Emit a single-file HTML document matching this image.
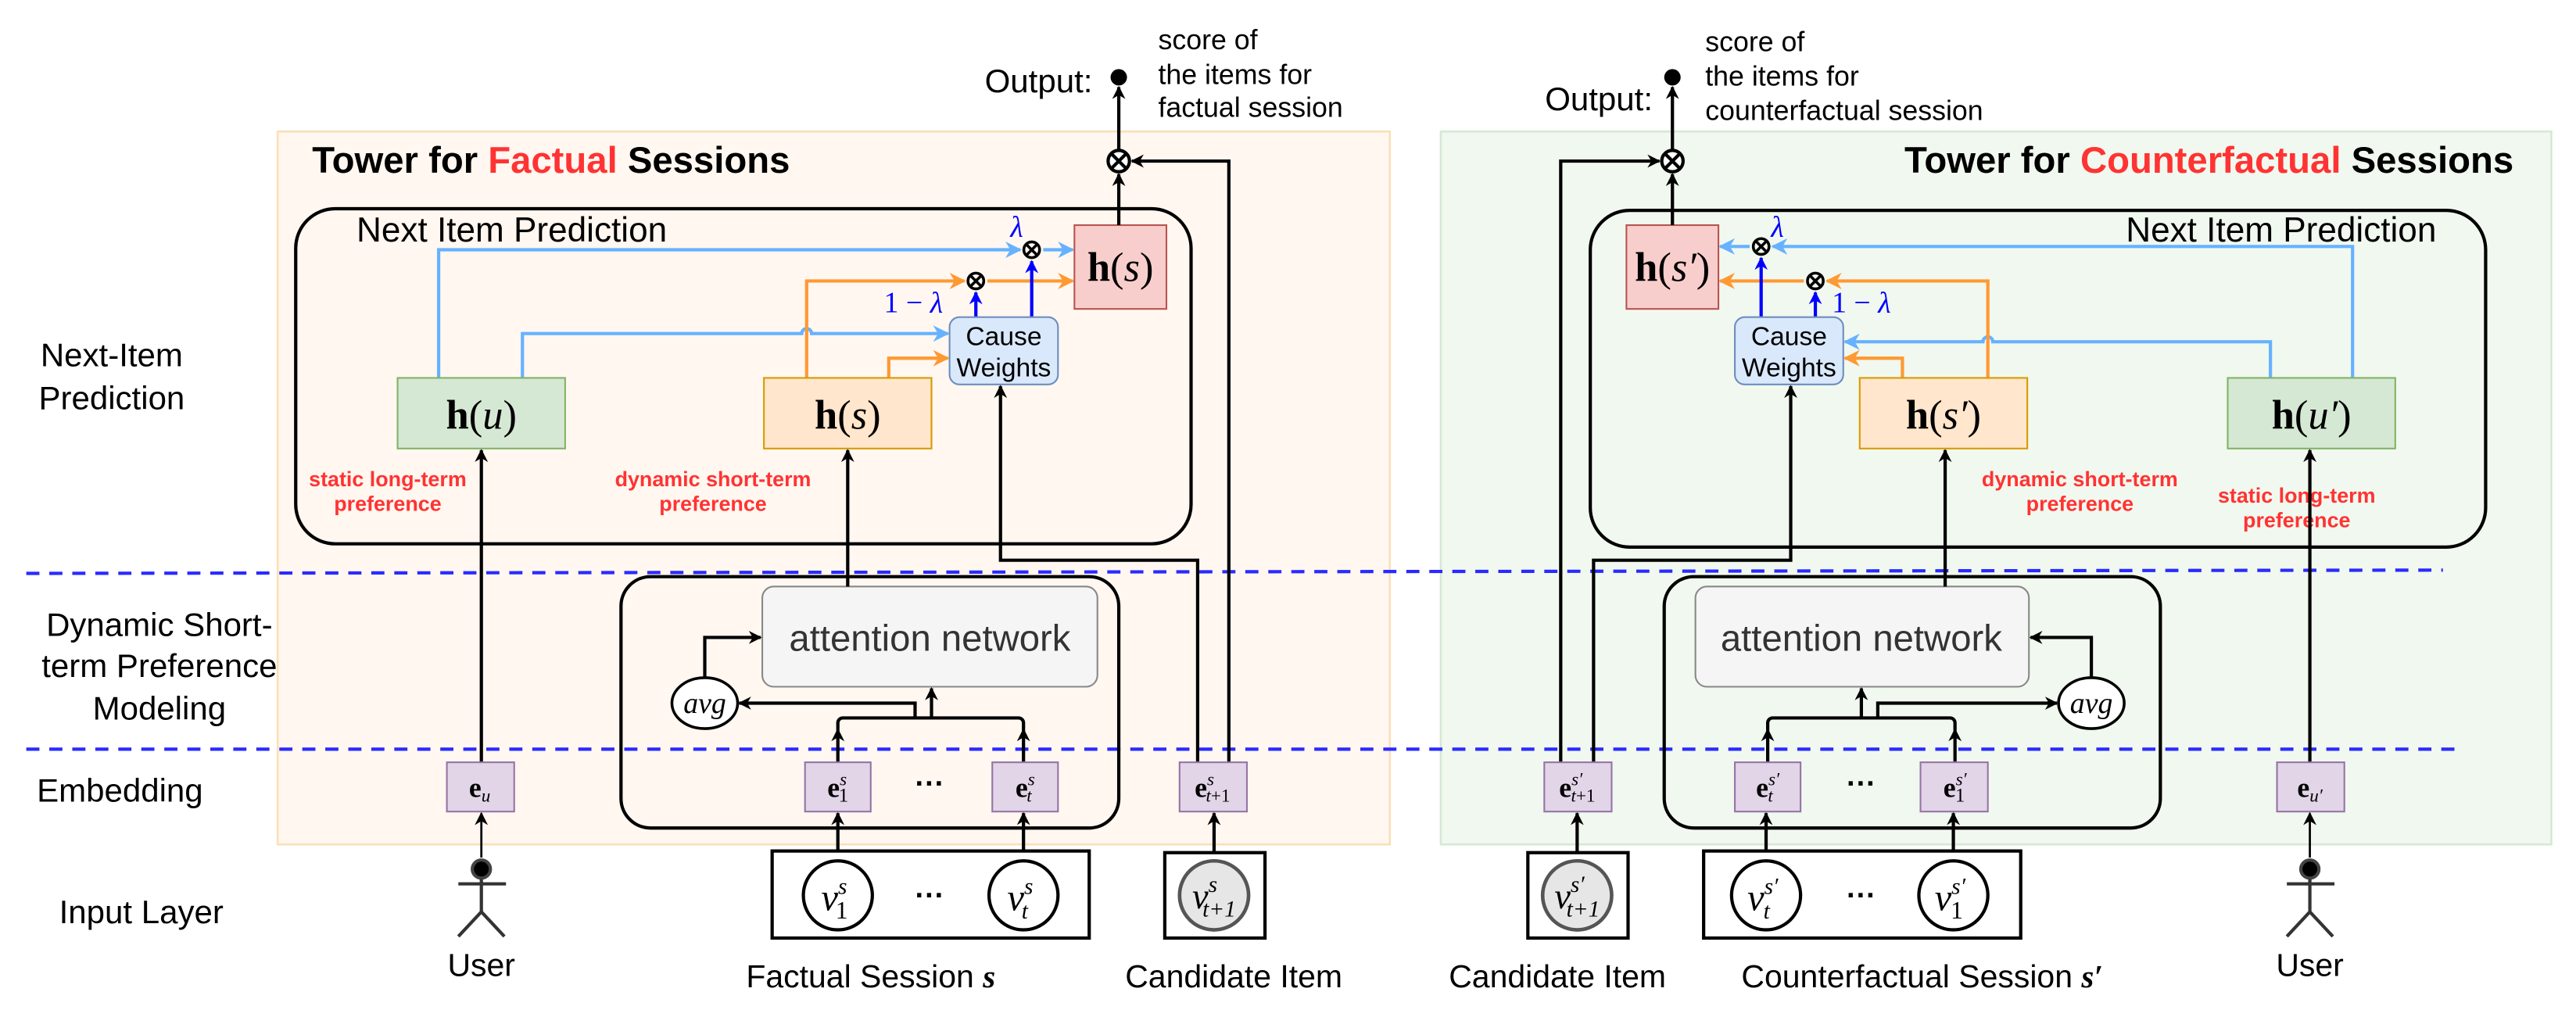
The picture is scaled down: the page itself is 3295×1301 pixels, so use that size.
<!DOCTYPE html>
<html><head><meta charset="utf-8"><style>
html,body{margin:0;padding:0;background:#fff;}
svg{display:block;}
text{font-family:"Liberation Sans",sans-serif;}
.m{font-family:"Liberation Serif",serif;}
</style></head><body>
<svg width="3295" height="1301" viewBox="0 0 1568 619" xmlns="http://www.w3.org/2000/svg">
<defs>
<marker id="ak" viewBox="0 0 10 10" refX="9" refY="5" markerWidth="8" markerHeight="8" orient="auto" markerUnits="userSpaceOnUse"><path d="M0,0 L10,5 L0,10 L3,5z" fill="#000"/></marker>
<marker id="ab" viewBox="0 0 10 10" refX="9" refY="5" markerWidth="10" markerHeight="10" orient="auto" markerUnits="userSpaceOnUse"><path d="M0,0 L10,5 L0,10 L3,5z" fill="#66b2ff"/></marker>
<marker id="ao" viewBox="0 0 10 10" refX="9" refY="5" markerWidth="10" markerHeight="10" orient="auto" markerUnits="userSpaceOnUse"><path d="M0,0 L10,5 L0,10 L3,5z" fill="#ff9933"/></marker>
<marker id="ad" viewBox="0 0 10 10" refX="9" refY="5" markerWidth="8" markerHeight="8" orient="auto" markerUnits="userSpaceOnUse"><path d="M0,0 L10,5 L0,10 L3,5z" fill="#0000ff"/></marker>
</defs>

<rect x="169" y="80" width="677" height="434" fill="#fff7f0" stroke="#f8e0b5" stroke-width="1.2"/>
<rect x="877" y="80" width="676" height="434" fill="#f1f8ef" stroke="#d5e8d4" stroke-width="1.2"/>

<g font-size="20" fill="#000" text-anchor="middle">
<text x="68" y="223">Next-Item</text>
<text x="68" y="249">Prediction</text>
<text x="97" y="387">Dynamic Short-</text>
<text x="97" y="412">term Preference</text>
<text x="97" y="438">Modeling</text>
<text x="73" y="488">Embedding</text>
<text x="86" y="562">Input Layer</text>
</g>

<text x="190" y="105" font-size="22.5" font-weight="bold">Tower for <tspan fill="#ff3333">Factual</tspan> Sessions</text>
<text x="1530" y="105" font-size="22.5" font-weight="bold" text-anchor="end">Tower for <tspan fill="#ff3333">Counterfactual</tspan> Sessions</text>

<line x1="16" y1="349" x2="1487" y2="347" stroke="#2a2aff" stroke-width="2" stroke-dasharray="8,6"/>
<line x1="16" y1="456" x2="1496" y2="456" stroke="#2a2aff" stroke-width="2" stroke-dasharray="8,6"/>

<rect x="180" y="127" width="545" height="204" rx="24" fill="none" stroke="#000" stroke-width="2"/>
<text x="217" y="147" font-size="21">Next Item Prediction</text>
<rect x="968" y="128" width="545" height="205" rx="24" fill="none" stroke="#000" stroke-width="2"/>
<text x="1483" y="147" font-size="21" text-anchor="end">Next Item Prediction</text>

<!-- LEFT -->
<g fill="none" stroke-width="2">
<path d="M267,230 V152 H621" stroke="#66b2ff" marker-end="url(#ab)"/>
<path d="M635,152 H653" stroke="#66b2ff" marker-end="url(#ab)"/>
<path d="M318,230 V203 H488 a3,3 0 0 1 6,0 H577" stroke="#66b2ff" marker-end="url(#ab)"/>
<path d="M491,230 V171 H587" stroke="#ff9933" marker-end="url(#ao)"/>
<path d="M601,171 H653" stroke="#ff9933" marker-end="url(#ao)"/>
<path d="M541,230 V218 H577" stroke="#ff9933" marker-end="url(#ao)"/>
<path d="M594,193 V178" stroke="#0000ff" marker-end="url(#ad)"/>
<path d="M628,193 V159" stroke="#0000ff" marker-end="url(#ad)"/>
</g>
<text x="615" y="144" font-size="18" fill="#0000ff" class="m" font-style="italic">λ</text>
<text x="538" y="190" font-size="18" fill="#0000ff" class="m">1 − <tspan font-style="italic">λ</tspan></text>
<g fill="none" stroke="#000" stroke-width="1.7">
<circle cx="594" cy="171" r="4.8"/><path d="M591,168 L597,174 M597,168 L591,174"/>
<circle cx="628" cy="152" r="4.8"/><path d="M625,149 L631,155 M631,149 L625,155"/>
</g>
<rect x="242" y="230" width="102" height="43" fill="#d5e8d4" stroke="#82b366"/>
<text x="293" y="261" font-size="25" text-anchor="middle" class="m"><tspan font-weight="bold">h</tspan>(<tspan font-style="italic">u</tspan>)</text>
<rect x="465" y="230" width="102" height="43" fill="#ffe6cc" stroke="#d79b00"/>
<text x="516" y="261" font-size="25" text-anchor="middle" class="m"><tspan font-weight="bold">h</tspan>(<tspan font-style="italic">s</tspan>)</text>
<rect x="578" y="193" width="66" height="41" rx="6" fill="#dae8fc" stroke="#6c8ebf"/>
<text x="611" y="210" font-size="16" text-anchor="middle">Cause</text>
<text x="611" y="229" font-size="16" text-anchor="middle">Weights</text>
<rect x="654" y="137" width="56" height="51" fill="#f8cecc" stroke="#b85450"/>
<text x="682" y="171" font-size="25" text-anchor="middle" class="m"><tspan font-weight="bold">h</tspan>(<tspan font-style="italic">s</tspan>)</text>
<g font-size="12.8" font-weight="bold" fill="#ff3333" text-anchor="middle">
<text x="236" y="296">static long-term</text><text x="236" y="311">preference</text>
<text x="434" y="296">dynamic short-term</text><text x="434" y="311">preference</text>
</g>
<g fill="none" stroke="#000" stroke-width="2">
<path d="M681,137 V106" marker-end="url(#ak)"/>
<path d="M681,91 V53" marker-end="url(#ak)"/>
<path d="M748,464 V98 H689" marker-end="url(#ak)"/>
<path d="M729,464 V341 H609 V235" marker-end="url(#ak)"/>
<circle cx="681" cy="98" r="6.5" fill="#fff"/><path d="M676.5,93.5 L685.5,102.5 M685.5,93.5 L676.5,102.5"/>
</g>
<circle cx="681" cy="47" r="5" fill="#000"/>
<text x="665" y="56" font-size="20" text-anchor="end">Output:</text>
<g font-size="17"><text x="705" y="30">score of</text><text x="705" y="51">the items for</text><text x="705" y="71">factual session</text></g>

<rect x="378" y="351" width="303" height="153" rx="18" fill="none" stroke="#000" stroke-width="2"/>
<rect x="464" y="357" width="204" height="61" rx="7" fill="#f5f5f5" stroke="#888"/>
<text x="566" y="396" font-size="22.5" fill="#333" text-anchor="middle">attention network</text>
<ellipse cx="429" cy="428" rx="20" ry="15.5" fill="#fff" stroke="#000" stroke-width="1.7"/>
<text x="429" y="434" font-size="18" text-anchor="middle" class="m" font-style="italic">avg</text>
<g fill="none" stroke="#000" stroke-width="2">
<path d="M429,412 V388 H463" marker-end="url(#ak)"/>
<path d="M510,464 V444" marker-end="url(#ak)"/>
<path d="M623,464 V444" marker-end="url(#ak)"/>
<path d="M510,444 V440 a3,3 0 0 1 3,-3 H620 a3,3 0 0 1 3,3 V444"/>
<path d="M557,437 V428 H450" marker-end="url(#ak)"/>
<path d="M567,437 V419" marker-end="url(#ak)"/>
<path d="M516,357 V274" marker-end="url(#ak)"/>
<path d="M293,464 V274" marker-end="url(#ak)"/>
<path d="M510,523 V495" marker-end="url(#ak)"/>
<path d="M623,523 V495" marker-end="url(#ak)"/>
<path d="M739,523 V495" marker-end="url(#ak)"/>
<path d="M293,522 V495" stroke-width="1.3" marker-end="url(#ak)"/>
</g>
<g fill="#e1d5e7" stroke="#9673a6">
<rect x="272" y="464" width="41" height="30"/><rect x="490" y="464" width="40" height="30"/>
<rect x="604" y="464" width="40" height="30"/><rect x="718" y="464" width="41" height="30"/>
</g>
<g font-size="17" text-anchor="middle">
<text x="292" y="485" class="m"><tspan font-weight="bold">e</tspan><tspan font-size="11" font-style="italic" dy="3">u</tspan></text>
<text x="510" y="485" class="m"><tspan font-weight="bold">e</tspan><tspan font-size="11" font-style="italic" dy="-7">s</tspan><tspan font-size="12" dx="-5" dy="10">1</tspan></text>
<text x="624" y="485" class="m"><tspan font-weight="bold">e</tspan><tspan font-size="11" font-style="italic" dy="-7">s</tspan><tspan font-size="11" font-style="italic" dx="-5" dy="10">t</tspan></text>
<text x="738" y="485" class="m"><tspan font-weight="bold">e</tspan><tspan font-size="11" font-style="italic" dy="-7">s</tspan><tspan font-size="11" font-style="italic" dx="-5" dy="10">t</tspan><tspan font-size="11">+1</tspan></text>
</g>
<text x="566" y="483" font-size="18" font-weight="bold" text-anchor="middle">···</text>
<rect x="470" y="518" width="193" height="53" fill="#fff" stroke="#000" stroke-width="2"/>
<ellipse cx="510" cy="545" rx="21" ry="21" fill="#fff" stroke="#000" stroke-width="2"/>
<ellipse cx="623" cy="545" rx="21" ry="21" fill="#fff" stroke="#000" stroke-width="2"/>
<text x="566" y="551" font-size="18" font-weight="bold" text-anchor="middle">···</text>
<g font-style="italic" text-anchor="middle">
<text x="508" y="554" font-size="23" class="m">v<tspan font-size="14" dy="-10">s</tspan><tspan font-size="15" font-style="normal" dx="-7" dy="15">1</tspan></text>
<text x="621" y="554" font-size="23" class="m">v<tspan font-size="14" dy="-10">s</tspan><tspan font-size="14" dx="-7" dy="15">t</tspan></text>
</g>
<rect x="709" y="519" width="61" height="52" fill="#fff" stroke="#000" stroke-width="2"/>
<circle cx="739" cy="545" r="21" fill="#e6e6e6" stroke="#555" stroke-width="2.2"/>
<text x="739" y="553" font-size="22" class="m" font-style="italic" text-anchor="middle">v<tspan font-size="14" dy="-10">s</tspan><tspan font-size="14" dx="-9" dy="15">t+1</tspan></text>
<g stroke="#333" stroke-width="2" fill="none">
<circle cx="293" cy="529" r="5.5" fill="#000" stroke="#444"/>
<path d="M293,535 V555 M279,538 H308 M293,555 L279,570 M293,555 L307,570"/>
</g>
<g font-size="19.5" text-anchor="middle">
<text x="293" y="594">User</text>
<text x="530" y="601">Factual Session <tspan class="m" font-style="italic" font-weight="bold">s</tspan></text>
<text x="751" y="601">Candidate Item</text>
</g>

<!-- RIGHT -->
<g fill="none" stroke-width="2">
<path d="M1432,230 V150 H1079" stroke="#66b2ff" marker-end="url(#ab)"/>
<path d="M1065,150 H1047" stroke="#66b2ff" marker-end="url(#ab)"/>
<path d="M1382,230 V208 H1213 a3,3 0 0 0 -6,0 H1123" stroke="#66b2ff" marker-end="url(#ab)"/>
<path d="M1210,230 V171 H1112" stroke="#ff9933" marker-end="url(#ao)"/>
<path d="M1098,171 H1047" stroke="#ff9933" marker-end="url(#ao)"/>
<path d="M1158,230 V218 H1123" stroke="#ff9933" marker-end="url(#ao)"/>
<path d="M1105,193 V178" stroke="#0000ff" marker-end="url(#ad)"/>
<path d="M1072,193 V157" stroke="#0000ff" marker-end="url(#ad)"/>
</g>
<text x="1078" y="144" font-size="18" fill="#0000ff" class="m" font-style="italic">λ</text>
<text x="1115" y="190" font-size="18" fill="#0000ff" class="m">1 − <tspan font-style="italic">λ</tspan></text>
<g fill="none" stroke="#000" stroke-width="1.7">
<circle cx="1105" cy="171" r="4.8"/><path d="M1102,168 L1108,174 M1108,168 L1102,174"/>
<circle cx="1072" cy="150" r="4.8"/><path d="M1069,147 L1075,153 M1075,147 L1069,153"/>
</g>
<rect x="990" y="137" width="56" height="51" fill="#f8cecc" stroke="#b85450"/>
<text x="1018" y="171" font-size="25" text-anchor="middle" class="m"><tspan font-weight="bold">h</tspan>(<tspan font-style="italic">s′</tspan>)</text>
<rect x="1056" y="193" width="66" height="41" rx="6" fill="#dae8fc" stroke="#6c8ebf"/>
<text x="1089" y="210" font-size="16" text-anchor="middle">Cause</text>
<text x="1089" y="229" font-size="16" text-anchor="middle">Weights</text>
<rect x="1132" y="230" width="102" height="43" fill="#ffe6cc" stroke="#d79b00"/>
<text x="1183" y="261" font-size="25" text-anchor="middle" class="m"><tspan font-weight="bold">h</tspan>(<tspan font-style="italic">s′</tspan>)</text>
<rect x="1356" y="230" width="102" height="43" fill="#d5e8d4" stroke="#82b366"/>
<text x="1407" y="261" font-size="25" text-anchor="middle" class="m"><tspan font-weight="bold">h</tspan>(<tspan font-style="italic">u′</tspan>)</text>
<g font-size="12.8" font-weight="bold" fill="#ff3333" text-anchor="middle">
<text x="1266" y="296">dynamic short-term</text><text x="1266" y="311">preference</text>
<text x="1398" y="306">static long-term</text><text x="1398" y="321">preference</text>
</g>
<g fill="none" stroke="#000" stroke-width="2">
<path d="M1018,137 V106" marker-end="url(#ak)"/>
<path d="M1018,91 V53" marker-end="url(#ak)"/>
<path d="M950,464 V98 H1010" marker-end="url(#ak)"/>
<path d="M970,464 V341 H1090 V235" marker-end="url(#ak)"/>
<circle cx="1018" cy="98" r="6.5" fill="#fff"/><path d="M1013.5,93.5 L1022.5,102.5 M1022.5,93.5 L1013.5,102.5"/>
</g>
<circle cx="1018" cy="47" r="5" fill="#000"/>
<text x="1006" y="67" font-size="20" text-anchor="end">Output:</text>
<g font-size="17"><text x="1038" y="31">score of</text><text x="1038" y="52">the items for</text><text x="1038" y="73">counterfactual session</text></g>

<rect x="1013" y="351" width="302" height="153" rx="18" fill="none" stroke="#000" stroke-width="2"/>
<rect x="1032" y="357" width="203" height="61" rx="7" fill="#f5f5f5" stroke="#888"/>
<text x="1133" y="396" font-size="22.5" fill="#333" text-anchor="middle">attention network</text>
<ellipse cx="1273" cy="428" rx="20" ry="15.5" fill="#fff" stroke="#000" stroke-width="1.7"/>
<text x="1273" y="434" font-size="18" text-anchor="middle" class="m" font-style="italic">avg</text>
<g fill="none" stroke="#000" stroke-width="2">
<path d="M1273,412 V388 H1236" marker-end="url(#ak)"/>
<path d="M1076,464 V444" marker-end="url(#ak)"/>
<path d="M1190,464 V444" marker-end="url(#ak)"/>
<path d="M1076,444 V440 a3,3 0 0 1 3,-3 H1187 a3,3 0 0 1 3,3 V444"/>
<path d="M1143,437 V428 H1252" marker-end="url(#ak)"/>
<path d="M1133,437 V419" marker-end="url(#ak)"/>
<path d="M1184,357 V274" marker-end="url(#ak)"/>
<path d="M1406,464 V274" marker-end="url(#ak)"/>
<path d="M1075,523 V495" marker-end="url(#ak)"/>
<path d="M1189,523 V495" marker-end="url(#ak)"/>
<path d="M960,523 V495" marker-end="url(#ak)"/>
<path d="M1406,522 V495" stroke-width="1.3" marker-end="url(#ak)"/>
</g>
<g fill="#e1d5e7" stroke="#9673a6">
<rect x="940" y="464" width="41" height="30"/><rect x="1056" y="464" width="40" height="30"/>
<rect x="1169" y="464" width="41" height="30"/><rect x="1386" y="464" width="41" height="30"/>
</g>
<g font-size="17" text-anchor="middle">
<text x="1406" y="485" class="m"><tspan font-weight="bold">e</tspan><tspan font-size="11" font-style="italic" dy="3">u′</tspan></text>
<text x="1076" y="485" class="m"><tspan font-weight="bold">e</tspan><tspan font-size="11" font-style="italic" dy="-7">s′</tspan><tspan font-size="11" font-style="italic" dx="-7" dy="10">t</tspan></text>
<text x="1190" y="485" class="m"><tspan font-weight="bold">e</tspan><tspan font-size="11" font-style="italic" dy="-7">s′</tspan><tspan font-size="12" dx="-7" dy="10">1</tspan></text>
<text x="960" y="485" class="m"><tspan font-weight="bold">e</tspan><tspan font-size="11" font-style="italic" dy="-7">s′</tspan><tspan font-size="11" font-style="italic" dx="-7" dy="10">t</tspan><tspan font-size="11">+1</tspan></text>
</g>
<text x="1133" y="483" font-size="18" font-weight="bold" text-anchor="middle">···</text>
<rect x="1037" y="518" width="193" height="53" fill="#fff" stroke="#000" stroke-width="2"/>
<circle cx="1075" cy="545" r="21" fill="#fff" stroke="#000" stroke-width="2"/>
<circle cx="1189" cy="545" r="21" fill="#fff" stroke="#000" stroke-width="2"/>
<text x="1133" y="551" font-size="18" font-weight="bold" text-anchor="middle">···</text>
<g font-style="italic" text-anchor="middle">
<text x="1073" y="554" font-size="23" class="m">v<tspan font-size="14" dy="-10">s′</tspan><tspan font-size="14" dx="-9" dy="15">t</tspan></text>
<text x="1187" y="554" font-size="23" class="m">v<tspan font-size="14" dy="-10">s′</tspan><tspan font-size="15" font-style="normal" dx="-9" dy="15">1</tspan></text>
</g>
<rect x="930" y="519" width="61" height="52" fill="#fff" stroke="#000" stroke-width="2"/>
<circle cx="960" cy="545" r="21" fill="#e6e6e6" stroke="#555" stroke-width="2.2"/>
<text x="960" y="553" font-size="22" class="m" font-style="italic" text-anchor="middle">v<tspan font-size="14" dy="-10">s′</tspan><tspan font-size="14" dx="-11" dy="15">t+1</tspan></text>
<g stroke="#333" stroke-width="2" fill="none">
<circle cx="1406" cy="529" r="5.5" fill="#000" stroke="#444"/>
<path d="M1406,535 V555 M1392,538 H1421 M1406,555 L1392,570 M1406,555 L1420,570"/>
</g>
<g font-size="19.5" text-anchor="middle">
<text x="1406" y="594">User</text>
<text x="1170" y="601">Counterfactual Session <tspan class="m" font-style="italic" font-weight="bold">s′</tspan></text>
<text x="948" y="601">Candidate Item</text>
</g>
</svg>
</body></html>
